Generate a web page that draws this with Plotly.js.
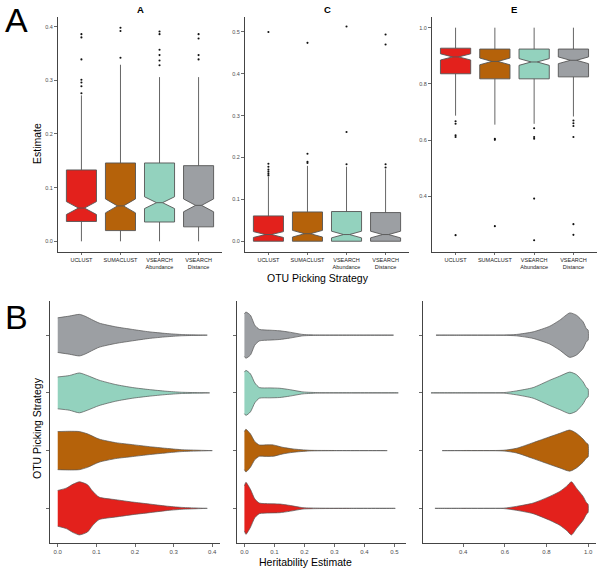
<!DOCTYPE html>
<html>
<head>
<meta charset="utf-8">
<script src="https://cdn.plot.ly/plotly-3.0.1.min.js"></script>
<style>html,body{margin:0;padding:0;background:#fff}#chart{width:600px;height:573px}</style>
</head>
<body>
<div id="chart"></div>
<script>
// ---------- categories ----------
const strategies = ["UCLUST", "SUMACLUST", "VSEARCH<br>Abundance", "VSEARCH<br>Distance"];
const panelTitles = ["A", "C", "E"];

// ---------- Panel A (boxplot statistics per strategy) ----------
const boxA_q1      = [0.037, 0.020, 0.036, 0.027];
const boxA_median  = [0.062, 0.066, 0.072, 0.067];
const boxA_q3      = [0.133, 0.146, 0.146, 0.141];
const boxA_lower   = [0.0, 0.0, 0.0, 0.0];
const boxA_upper   = [0.272, 0.329, 0.306, 0.306];
const boxA_notch   = [0.012, 0.013, 0.011, 0.012];
const boxA_outliers = [
  [0.276, 0.289, 0.296, 0.301, 0.339, 0.380, 0.386],
  [0.342, 0.392, 0.398],
  [0.328, 0.337, 0.347, 0.357, 0.386, 0.391],
  [0.339, 0.347, 0.378, 0.386]
];

// ---------- Panel C ----------
const boxC_q1      = [0.0, 0.0, 0.0, 0.0];
const boxC_median  = [0.016, 0.018, 0.016, 0.016];
const boxC_q3      = [0.0605, 0.070, 0.071, 0.0685];
const boxC_lower   = [0.0, 0.0, 0.0, 0.0];
const boxC_upper   = [0.154, 0.180, 0.178, 0.172];
const boxC_notch   = [0.007, 0.008, 0.008, 0.008];
const boxC_outliers = [
  [0.157, 0.161, 0.166, 0.171, 0.178, 0.185, 0.500],
  [0.187, 0.190, 0.209, 0.474],
  [0.184, 0.261, 0.513],
  [0.176, 0.184, 0.470, 0.494]
];

// ---------- Panel E ----------
const boxE_q1      = [0.836, 0.818, 0.818, 0.825];
const boxE_median  = [0.896, 0.880, 0.878, 0.884];
const boxE_q3      = [0.927, 0.924, 0.924, 0.924];
const boxE_lower   = [0.687, 0.655, 0.658, 0.684];
const boxE_upper   = [1.0, 1.0, 1.0, 1.0];
const boxE_notch   = [0.011, 0.012, 0.012, 0.012];
const boxE_outliers = [
  [0.667, 0.658, 0.617, 0.611, 0.262],
  [0.605, 0.601, 0.294],
  [0.642, 0.611, 0.605, 0.392, 0.244],
  [0.670, 0.660, 0.650, 0.611, 0.301, 0.263]
];

// ---------- Violin profiles (estimate value, half-width in category units) ----------
const violinA_x = [
  [0, 0.022, 0.040, 0.056, 0.077, 0.090, 0.107, 0.150, 0.194, 0.237, 0.280, 0.320, 0.387],
  [0, 0.030, 0.056, 0.077, 0.107, 0.150, 0.194, 0.237, 0.280, 0.320, 0.400],
  [0, 0.030, 0.056, 0.077, 0.107, 0.150, 0.194, 0.237, 0.280, 0.320, 0.393],
  [0, 0.030, 0.056, 0.070, 0.107, 0.150, 0.194, 0.237, 0.280, 0.320, 0.387]
];
const violinA_w = [
  [0.31, 0.35, 0.42, 0.46, 0.41, 0.30, 0.195, 0.15, 0.109, 0.075, 0.040, 0.017, 0],
  [0.33, 0.335, 0.33, 0.29, 0.20, 0.138, 0.103, 0.069, 0.040, 0.017, 0],
  [0.276, 0.30, 0.345, 0.30, 0.22, 0.144, 0.092, 0.057, 0.029, 0.011, 0],
  [0.30, 0.33, 0.36, 0.33, 0.21, 0.144, 0.098, 0.057, 0.029, 0.011, 0]
];
const violinC_x = [
  [0, 0.005, 0.020, 0.035, 0.050, 0.085, 0.118, 0.150, 0.195, 0.250, 0.350, 0.503],
  [0, 0.005, 0.020, 0.035, 0.050, 0.074, 0.096, 0.128, 0.162, 0.217, 0.300, 0.476],
  [0, 0.005, 0.020, 0.035, 0.050, 0.085, 0.118, 0.150, 0.195, 0.250, 0.350, 0.513],
  [0, 0.005, 0.020, 0.035, 0.050, 0.085, 0.118, 0.150, 0.195, 0.250, 0.350, 0.497]
];
const violinC_w = [
  [0.39, 0.45, 0.33, 0.16, 0.092, 0.080, 0.075, 0.052, 0.012, 0.004, 0.002, 0],
  [0.33, 0.37, 0.29, 0.155, 0.098, 0.100, 0.098, 0.057, 0.029, 0.006, 0.002, 0],
  [0.36, 0.39, 0.33, 0.17, 0.092, 0.086, 0.080, 0.057, 0.017, 0.004, 0.002, 0],
  [0.37, 0.40, 0.345, 0.17, 0.100, 0.086, 0.075, 0.052, 0.012, 0.003, 0.002, 0]
];
const violinE_x = [
  [0.264, 0.400, 0.592, 0.656, 0.736, 0.816, 0.864, 0.896, 0.920, 0.944, 0.976, 0.992, 1.0],
  [0.299, 0.400, 0.592, 0.656, 0.736, 0.816, 0.864, 0.912, 0.944, 0.976, 0.992, 1.0],
  [0.245, 0.400, 0.592, 0.656, 0.736, 0.816, 0.864, 0.912, 0.944, 0.976, 0.992, 1.0],
  [0.269, 0.400, 0.592, 0.656, 0.736, 0.816, 0.864, 0.912, 0.944, 0.976, 0.992, 1.0]
];
const violinE_w = [
  [0, 0.002, 0.003, 0.034, 0.092, 0.207, 0.293, 0.38, 0.46, 0.35, 0.207, 0.10, 0.07],
  [0, 0.002, 0.006, 0.040, 0.138, 0.240, 0.300, 0.356, 0.30, 0.20, 0.13, 0.11],
  [0, 0.002, 0.004, 0.034, 0.092, 0.220, 0.290, 0.360, 0.316, 0.19, 0.09, 0.07],
  [0, 0.002, 0.003, 0.012, 0.057, 0.155, 0.260, 0.385, 0.345, 0.23, 0.11, 0.09]
];

// ---------- styles ----------
const fills = ["#e3211c", "#b5620a", "#93d2be", "#9c9fa3"];
const edge = "#555555";
const FONT = "Liberation Sans, Arial, Helvetica, sans-serif";

const traces = [];

function addBoxes(xa, ya, q1, med, q3, lo, hi, notch, outl) {
  for (let i = 0; i < strategies.length; i++) {
    traces.push({
      type: "box", xaxis: xa, yaxis: ya,
      x: [i + 1], q1: [q1[i]], median: [med[i]], q3: [q3[i]],
      lowerfence: [lo[i]], upperfence: [hi[i]], notchspan: [notch[i]],
      notched: true, notchwidth: 0.4, width: 0.77, whiskerwidth: 0,
      boxpoints: false, fillcolor: fills[i],
      line: {color: edge, width: 0.9}, hoverinfo: "skip", showlegend: false
    });
    traces.push({
      type: "scatter", mode: "markers", xaxis: xa, yaxis: ya,
      x: outl[i].map(() => i + 1), y: outl[i],
      marker: {color: "#111", size: 2.1}, hoverinfo: "skip", showlegend: false
    });
  }
}
addBoxes("x", "y", boxA_q1, boxA_median, boxA_q3, boxA_lower, boxA_upper, boxA_notch, boxA_outliers);
addBoxes("x2", "y2", boxC_q1, boxC_median, boxC_q3, boxC_lower, boxC_upper, boxC_notch, boxC_outliers);
addBoxes("x3", "y3", boxE_q1, boxE_median, boxE_q3, boxE_lower, boxE_upper, boxE_notch, boxE_outliers);

function addViolins(xa, ya, vx, vw) {
  for (let i = 0; i < strategies.length; i++) {
    const c = i + 1;
    const xs = vx[i], ws = vw[i];
    const px = xs.concat(xs.slice().reverse());
    const py = xs.map((_, j) => c + ws[j]).concat(xs.map((_, j) => c - ws[j]).reverse());
    traces.push({
      type: "scatter", mode: "lines", xaxis: xa, yaxis: ya,
      x: px, y: py, fill: "toself", fillcolor: fills[i],
      line: {color: edge, width: 0.7, shape: "spline", smoothing: 0.6},
      hoverinfo: "skip", showlegend: false
    });
  }
}
addViolins("x4", "y4", violinA_x, violinA_w);
addViolins("x5", "y5", violinC_x, violinC_w);
addViolins("x6", "y6", violinE_x, violinE_w);

const axBase = {
  showline: true, linecolor: "#444", linewidth: 1, ticks: "outside", ticklen: 3,
  tickcolor: "#444", tickwidth: 0.8, showgrid: false, zeroline: false,
  tickfont: {family: FONT, size: 5.5, color: "#4d4d4d"}, fixedrange: true
};
function ax(extra) { return Object.assign({}, axBase, extra); }

const W = 600, H = 573;
const xd = (a, b) => [a / W, b / W];
const yd = (top, bot) => [1 - bot / H, 1 - top / H];

const catX = {
  range: [0.4, 4.6], tickvals: [1, 2, 3, 4], ticktext: strategies, ticklen: 2,
  tickfont: {family: FONT, size: 5.5, color: "#222"}
};
const catY = {range: [0.4, 4.6], tickvals: [1, 2, 3, 4], showticklabels: false};

function ann(text, px, py, size, angle) {
  return {text: text, x: px / W, y: 1 - py / H, xref: "paper", yref: "paper",
          xanchor: "center", yanchor: "middle", showarrow: false, textangle: angle || 0,
          font: {size: size, color: "#000", family: FONT}};
}

const layout = {
  width: W, height: H, margin: {l: 0, r: 0, t: 0, b: 0},
  paper_bgcolor: "#fff", plot_bgcolor: "#fff", showlegend: false,
  font: {family: FONT},
  xaxis:  ax(Object.assign({domain: xd(58, 222), anchor: "y"}, catX)),
  xaxis2: ax(Object.assign({domain: xd(245, 409), anchor: "y2"}, catX)),
  xaxis3: ax(Object.assign({domain: xd(432, 597), anchor: "y3"}, catX)),
  yaxis:  ax({domain: yd(17, 252), anchor: "x", range: [-0.0199, 0.418], dtick: 0.1, tickformat: ".1f"}),
  yaxis2: ax({domain: yd(17, 252), anchor: "x2", range: [-0.0257, 0.5357], dtick: 0.1, tickformat: ".1f"}),
  yaxis3: ax({domain: yd(17, 252), anchor: "x3", range: [0.202, 1.038], tickvals: [0.4, 0.6, 0.8, 1.0], tickformat: ".1f"}),
  xaxis4: ax({domain: xd(50, 220), anchor: "y4", range: [-0.02, 0.42], dtick: 0.1, tickformat: ".1f", tickfont: {family: FONT, size: 6, color: "#4d4d4d"}}),
  xaxis5: ax({domain: xd(236.7, 406), anchor: "y5", range: [-0.0257, 0.5387], dtick: 0.1, tickformat: ".1f", tickfont: {family: FONT, size: 6, color: "#4d4d4d"}}),
  xaxis6: ax({domain: xd(423.3, 596), anchor: "y6", range: [0.208, 1.038], tickvals: [0.4, 0.6, 0.8, 1.0], tickformat: ".1f", tickfont: {family: FONT, size: 6, color: "#4d4d4d"}}),
  yaxis4: ax(Object.assign({domain: yd(300.5, 543), anchor: "x4"}, catY)),
  yaxis5: ax(Object.assign({domain: yd(300.5, 543), anchor: "x5"}, catY)),
  yaxis6: ax(Object.assign({domain: yd(300.5, 543), anchor: "x6"}, catY)),
  annotations: [
    ann("A", 16, 20, 34),
    ann("B", 16, 317, 34),
    ann("<b>" + panelTitles[0] + "</b>", 140, 9.5, 9.5),
    ann("<b>" + panelTitles[1] + "</b>", 327, 9.5, 9.5),
    ann("<b>" + panelTitles[2] + "</b>", 514, 9.5, 9.5),
    ann("Estimate", 37, 144, 10.5, -90),
    ann("OTU Picking Strategy", 318, 278, 10.5),
    ann("OTU Picking Strategy", 37, 428, 10.5, -90),
    ann("Heritability Estimate", 305, 562, 10.5)
  ]
};

Plotly.newPlot("chart", traces, layout, {displayModeBar: false, staticPlot: true});
</script>
</body>
</html>
